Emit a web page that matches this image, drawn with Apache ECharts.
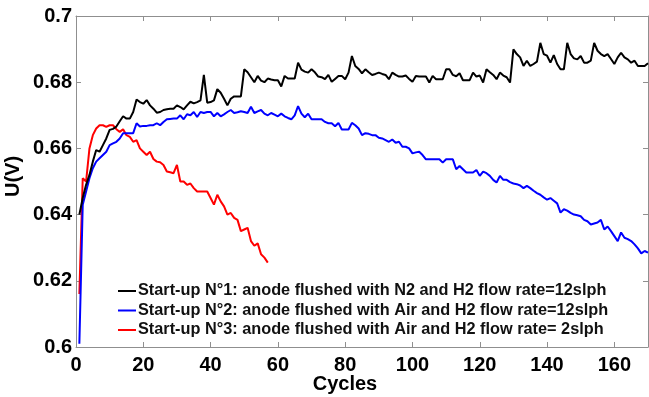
<!DOCTYPE html>
<html>
<head>
<meta charset="utf-8">
<script src="https://cdn.jsdelivr.net/npm/echarts@6/dist/echarts.min.js"></script>
<style>html,body{margin:0;padding:0;background:#fff}#c{width:649px;height:397px}</style>
</head>
<body>
<div id="c"></div>
<script>
// ---- data ----
const xTicks = [0, 20, 40, 60, 80, 100, 120, 140, 160];
const yTicks = [0.6, 0.62, 0.64, 0.66, 0.68, 0.7];
const seriesNames = [
  "Start-up N°1: anode flushed with N2 and H2 flow rate=12slph",
  "Start-up N°2: anode flushed with Air and H2 flow rate=12slph",
  "Start-up N°3: anode flushed with Air and H2 flow rate= 2slph"
];
// cycles 1..170
const u1 = [
0.640,0.645,0.649,0.652,0.656,0.6595,0.659,0.661,0.663,0.6656,
0.6659,0.6666,0.6682,0.6697,0.669,0.669,0.671,0.6748,0.674,0.6735,
0.6746,0.673,0.672,0.6708,0.671,0.6716,0.6718,0.672,0.672,0.673,
0.6725,0.6718,0.673,0.6741,0.6736,0.674,0.6745,0.6822,0.6738,0.674,
0.6745,0.6779,0.6768,0.675,0.673,0.675,0.6757,0.6757,0.6757,0.6839,
0.683,0.6815,0.680,0.6819,0.6805,0.680,0.6811,0.6808,0.6806,0.6806,
0.6787,0.6819,0.6811,0.6811,0.6811,0.6859,0.6838,0.6832,0.6829,0.6839,
0.683,0.6817,0.6815,0.6809,0.6822,0.6801,0.681,0.6819,0.6819,0.6809,
0.6829,0.6879,0.6849,0.684,0.6827,0.6839,0.683,0.6822,0.6825,0.6829,
0.6825,0.6822,0.6809,0.6829,0.6822,0.6817,0.6817,0.682,0.681,0.6801,
0.6819,0.6817,0.6817,0.6817,0.6799,0.6819,0.6809,0.6809,0.6809,0.6839,
0.6839,0.6822,0.6818,0.6827,0.6806,0.6806,0.6806,0.6829,0.6817,0.682,
0.6799,0.6839,0.683,0.6822,0.6809,0.6829,0.682,0.6815,0.6799,0.6899,
0.6885,0.6875,0.6849,0.6865,0.6849,0.6855,0.6862,0.6919,0.6885,0.688,
0.6859,0.6882,0.6855,0.6839,0.6839,0.6919,0.6885,0.6872,0.6869,0.6879,
0.6859,0.6859,0.6865,0.6919,0.6895,0.6885,0.6879,0.6885,0.687,0.6855,
0.6875,0.6889,0.6875,0.6869,0.6859,0.6865,0.6849,0.6849,0.6849,0.6857
];
// cycles 1..170
const u2 = [
0.601,0.643,0.647,0.651,0.654,0.656,0.657,0.658,0.659,0.661,
0.6615,0.662,0.663,0.6646,0.6646,0.6646,0.6646,0.6676,0.6666,0.6668,
0.6668,0.667,0.667,0.6676,0.667,0.668,0.6688,0.6689,0.669,0.669,
0.670,0.6688,0.6703,0.670,0.671,0.6695,0.671,0.6707,0.671,0.671,
0.6697,0.6707,0.6697,0.6703,0.671,0.6716,0.6707,0.6709,0.6712,0.671,
0.6707,0.6726,0.6707,0.6712,0.6716,0.6705,0.670,0.6707,0.6702,0.6697,
0.6705,0.6697,0.6692,0.6688,0.670,0.6728,0.6705,0.6694,0.6705,0.6688,
0.6688,0.6688,0.6688,0.668,0.6676,0.6676,0.6667,0.6677,0.6657,0.6657,
0.6657,0.6677,0.667,0.666,0.664,0.6646,0.6644,0.664,0.664,0.6632,
0.663,0.6625,0.662,0.6627,0.6617,0.662,0.6605,0.6605,0.660,0.6585,
0.6588,0.659,0.658,0.6567,0.6567,0.6567,0.6567,0.6567,0.6557,0.6567,
0.6567,0.6567,0.6537,0.6547,0.6537,0.6527,0.6527,0.6527,0.6535,0.6517,
0.653,0.6525,0.6517,0.6505,0.6497,0.6517,0.6505,0.6505,0.6498,0.6494,
0.6492,0.6488,0.648,0.6487,0.648,0.6472,0.6465,0.646,0.6452,0.6445,
0.645,0.6442,0.6434,0.6406,0.6416,0.6412,0.6405,0.640,0.6398,0.6395,
0.6384,0.638,0.637,0.6373,0.6376,0.6384,0.6355,0.6364,0.635,0.6335,
0.632,0.6346,0.633,0.6326,0.632,0.631,0.6298,0.6283,0.629,0.6285
];
// cycles 1..57
const u3 = [
0.616,0.651,0.650,0.660,0.664,0.666,0.667,0.667,0.6665,0.667,
0.667,0.6658,0.665,0.6658,0.664,0.6635,0.662,0.6625,0.660,0.659,
0.658,0.659,0.6568,0.656,0.6558,0.655,0.653,0.6528,0.6525,0.655,
0.650,0.650,0.649,0.6494,0.648,0.647,0.647,0.647,0.647,0.645,
0.643,0.646,0.644,0.6425,0.640,0.6405,0.639,0.6384,0.635,0.6355,
0.636,0.632,0.6306,0.6313,0.628,0.627,0.6255
];
const colors = ["#000000", "#0000ff", "#ff0000"];

const pairs = arr => arr.map((v, i) => [i + 1, v]);
const FONT = "Liberation Sans";
const AXC = "#8f8f8f";

const chart = echarts.init(document.getElementById('c'), null, {renderer: 'canvas'});
const baseAxis = {
  axisLine: {show: true, onZero: false, lineStyle: {color: AXC, width: 1}},
  axisTick: {show: true, inside: true, length: 5, lineStyle: {color: AXC}},
  splitLine: {show: false}
};
chart.setOption({
  animation: false,
  backgroundColor: '#fff',
  textStyle: {fontFamily: FONT},
  grid: {left: 76, top: 16, right: 1, bottom: 50, containLabel: false, outerBoundsMode: 'none'},
  legend: {
    data: seriesNames,
    orient: 'vertical',
    left: 118, top: 283, padding: 0,
    itemWidth: 18, itemHeight: 14, itemGap: 3.5,
    icon: 'path://M0,6 L18,6 L18,8 L0,8 Z',
    textStyle: {fontFamily: FONT, fontSize: 16.3, lineHeight: 14, fontWeight: 'bold', color: '#111', padding: [0,0,0,-3]}
  },
  xAxis: [
    Object.assign({}, baseAxis, {
      type: 'value', min: 0, max: 170, interval: 20, position: 'bottom',
      name: 'Cycles', nameLocation: 'middle', nameGap: 27, nameMoveOverlap: false,
      nameTextStyle: {fontFamily: FONT, fontSize: 20, fontWeight: 'bold', color: '#000', padding: [0, 34, 0, 0]},
      axisLabel: {fontFamily: FONT, fontSize: 20, fontWeight: 'bold', color: '#000', margin: 8, showMaxLabel: false}
    }),
    Object.assign({}, baseAxis, {
      type: 'value', min: 0, max: 170, interval: 20, position: 'top',
      axisLabel: {show: false}
    })
  ],
  yAxis: [
    Object.assign({}, baseAxis, {
      type: 'value', min: 0.6, max: 0.7, interval: 0.02, position: 'left',
      name: 'U(V)', nameLocation: 'middle', nameGap: 53, nameRotate: 90, nameMoveOverlap: false,
      nameTextStyle: {fontFamily: FONT, fontSize: 20, fontWeight: 'bold', color: '#000', padding: [0, 0, 0, 10]},
      axisLabel: {fontFamily: FONT, fontSize: 20, fontWeight: 'bold', color: '#000', margin: 4,
        formatter: v => String(+v.toFixed(2))}
    }),
    Object.assign({}, baseAxis, {
      type: 'value', min: 0.6, max: 0.7, interval: 0.02, position: 'right',
      axisLabel: {show: false}
    })
  ],
  series: [u1, u2, u3].map((arr, i) => ({
    name: seriesNames[i],
    type: 'line',
    data: pairs(arr),
    symbol: 'none',
    smooth: false,
    color: colors[i],
    lineStyle: {color: colors[i], width: 2},
    z: 3 - i
  }))
});
</script>
</body>
</html>
